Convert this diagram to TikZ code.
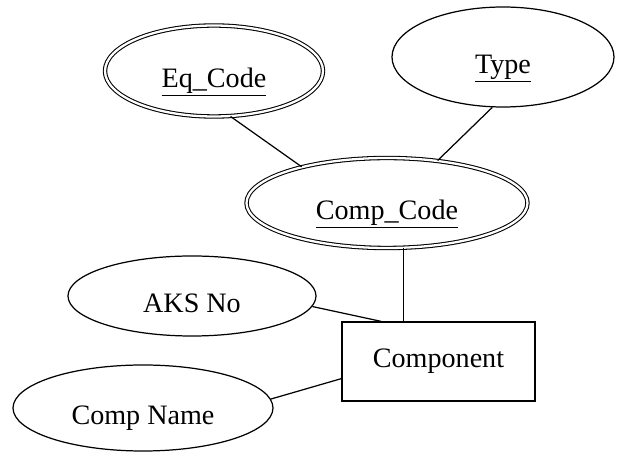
\documentclass[tikz,border=0pt]{standalone}
\usepackage{fontspec}
\setmainfont{Liberation Serif}
\usetikzlibrary{shapes.geometric}

\begin{document}
\begin{tikzpicture}[font=\fontsize{16pt}{19pt}\selectfont,
      atrib/.style={draw, ellipse, line width=0.7pt, inner sep=1pt, text height=0.7cm, text depth=0.05cm},
      kunci/.style={atrib, double, line width=0.6pt, double distance=1.3pt},
      entitas/.style={draw, rectangle, line width=0.7pt, minimum width=3.86cm, minimum height=1.58cm},
      garis/.style={line width=0.7pt}]
      \useasboundingbox (0,0) rectangle (12.34,9.06);

      % atribut atas
      \node[kunci, minimum width=4.36cm, minimum height=1.82cm] (eq) at (4.28,7.64) {\underline{Eq\_Code}};
      \node[atrib, minimum width=4.44cm, minimum height=2.0cm] (type) at (10.06,7.92) {\underline{Type}};

      % kunci komponen
      \node[kunci, minimum width=5.62cm, minimum height=1.80cm] (cc) at (7.74,5.0) {\underline{Comp\_Code}};

      % atribut kiri
      \node[atrib, minimum width=4.96cm, minimum height=1.6cm] (aks) at (3.84,3.14) {AKS No};
      \node[atrib, minimum width=5.2cm, minimum height=1.72cm] (cname) at (2.86,0.90) {Comp Name};

      % entitas
      \node[entitas] (comp) at (8.77,1.83) {Component};

      \draw[garis] (eq.-70) -- (cc.157);
      \draw[garis] (type.-102) -- (cc.40);
      \draw[garis] (cc.-70) -- (cc.-70 |- comp.north);
      \draw[garis] (aks.-5) -- (comp.145);
      \draw[garis] (cname.4) -- (comp.190);
    \end{tikzpicture}
\end{document}
